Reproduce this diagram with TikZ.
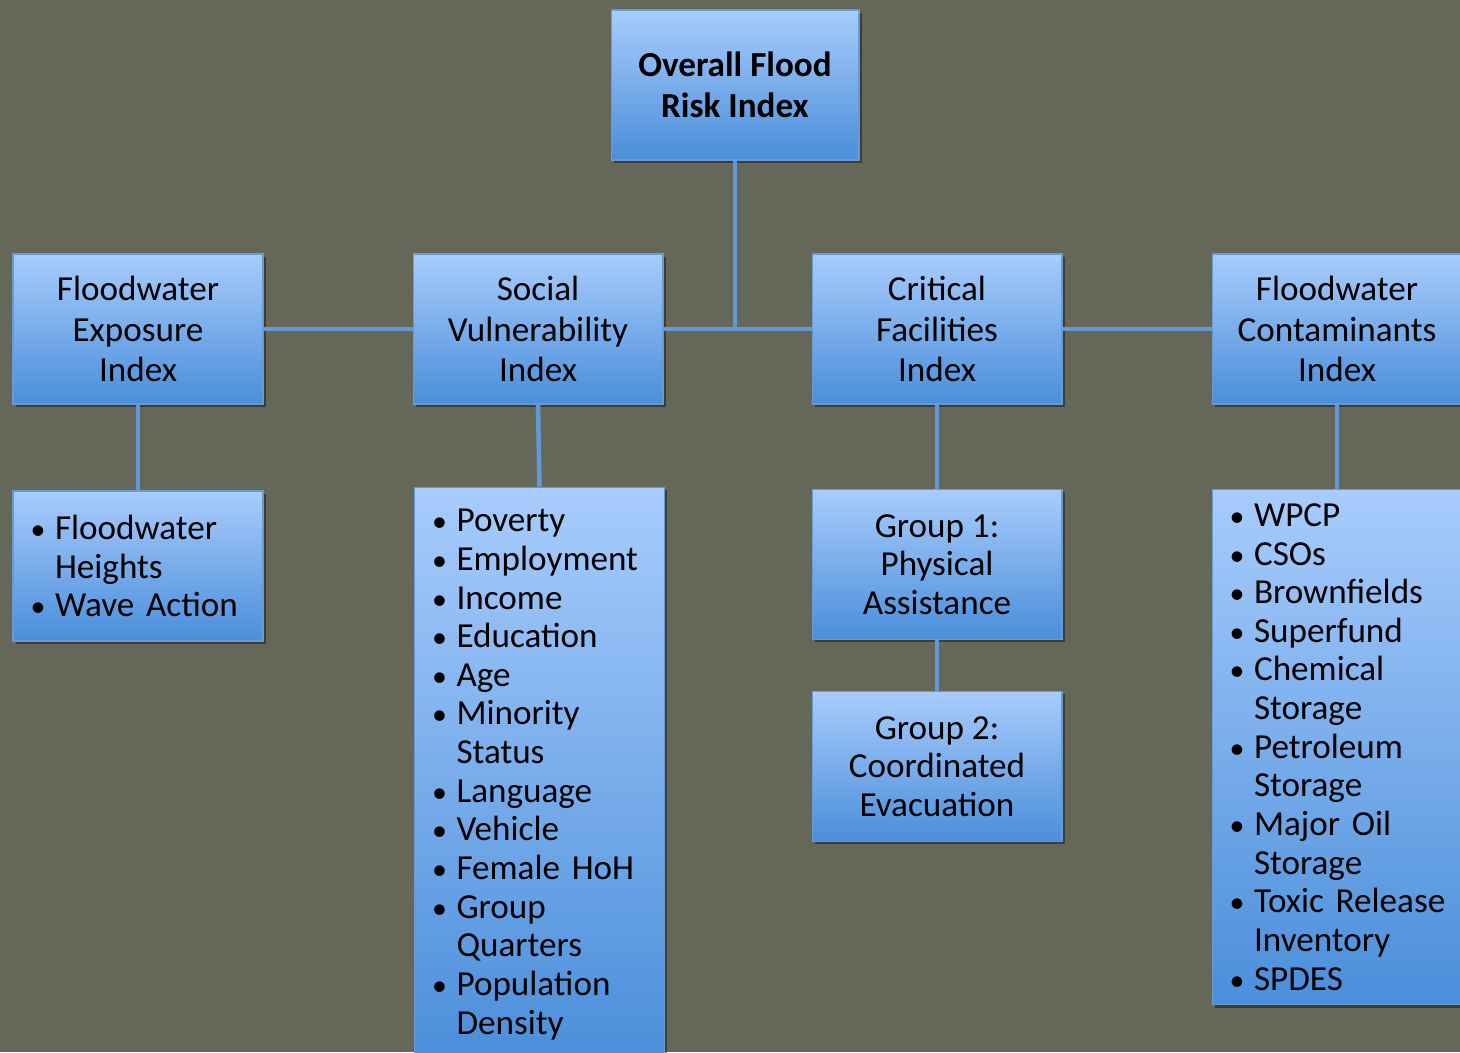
\documentclass[tikz,border=0pt]{standalone}
\usepackage{fontspec}
\setmainfont{Carlito}
\usetikzlibrary{shadows}

\definecolor{bgc}{RGB}{101,103,89}
\definecolor{boxtop}{RGB}{168,204,252}
\definecolor{boxbot}{RGB}{74,142,218}
\definecolor{boxline}{RGB}{104,154,212}
\definecolor{linkc}{RGB}{98,152,214}

\tikzset{
  box/.style={draw=boxline,line width=0.6pt,top color=boxtop,bottom color=boxbot,
    minimum width=5cm,minimum height=3cm,inner sep=0pt,
    drop shadow={shadow xshift=1.5pt,shadow yshift=-1.5pt,opacity=0.4,fill=black},
    font=\fontsize{20}{23}\selectfont},
  head/.style={box,align=center},
  list/.style={box,align=left,text width=4.12cm,inner xsep=0.44cm,
    font=\fontsize{20}{22}\selectfont},
  link/.style={draw=linkc,line width=2.6pt}
}
\newcommand\bul[1]{\mbox{\makebox[0.4cm][l]{\hspace{-2.5pt}\scalebox{0.85}{\textbullet}}#1}}
\newcommand\cnt[1]{\mbox{\hspace*{0.4cm}#1}}

\begin{document}
\begin{tikzpicture}[x=0.02cm,y=-0.02cm]
  \fill[bgc] (0,0) rectangle (1460,1052);
  \useasboundingbox (0,0) rectangle (1460,1052);
  \clip (0,0) rectangle (1460,1052);

  % top of the tree
  \node[head,minimum width=4.96cm,font=\fontsize{20}{23}\selectfont\bfseries] (Overall) at(735,85) {Overall Flood\\Risk Index};

  \node[head] (Exposure) at(138,329) {Floodwater\\Exposure\\Index};
  \node[head] (Social)   at(538,329) {Social\\Vulnerability\\Index};
  \node[head] (Critical) at(937,329) {Critical\\Facilities\\Index};
  \node[head] (Contam)   at(1337,329) {Floodwater\\Contaminants\\Index};

  % lists under the indices
  \node[list] (ExpList) at(138,566)
    {\bul{Floodwater}\\ \cnt{Heights}\\ \bul{Wave Action}};
  \node[list,minimum height=11.5cm] (SocList) at(539.5,774.5)
    {\bul{Poverty}\\ \bul{Employment}\\ \bul{Income}\\ \bul{Education}\\
     \bul{Age}\\ \bul{Minority}\\ \cnt{Status}\\ \bul{Language}\\
     \bul{Vehicle}\\ \bul{Female HoH}\\ \bul{Group}\\ \cnt{Quarters}\\
     \bul{Population}\\ \cnt{Density}};
  \node[head,font=\fontsize{20}{22}\selectfont] (GroupOne) at(937,564.5) {Group 1:\\Physical\\Assistance};
  \node[head,font=\fontsize{20}{22}\selectfont] (GroupTwo) at(937,766.5) {Group 2:\\Coordinated\\Evacuation};
  \node[list,minimum height=10.32cm] (ContList) at(1337,747)
    {\bul{WPCP}\\ \bul{CSOs}\\ \bul{Brownfields}\\ \bul{Superfund}\\
     \bul{Chemical}\\ \cnt{Storage}\\ \bul{Petroleum}\\ \cnt{Storage}\\
     \bul{Major Oil}\\ \cnt{Storage}\\ \bul{Toxic Release}\\ \cnt{Inventory}\\
     \bul{SPDES}};

  % connectors
  \draw[link] (Overall.south) -- (Overall.south |- Social.east);
  \draw[link] (Exposure.east) -- (Social.west);
  \draw[link] (Social.east) -- (Critical.west);
  \draw[link] (Critical.east) -- (Contam.west);
  \draw[link] (Exposure.south) -- (ExpList.north);
  \draw[link] (Social.south) -- (SocList.north);
  \draw[link] (Critical.south) -- (GroupOne.north);
  \draw[link] (GroupOne.south) -- (GroupTwo.north);
  \draw[link] (Contam.south) -- (ContList.north);
\end{tikzpicture}
\end{document}
